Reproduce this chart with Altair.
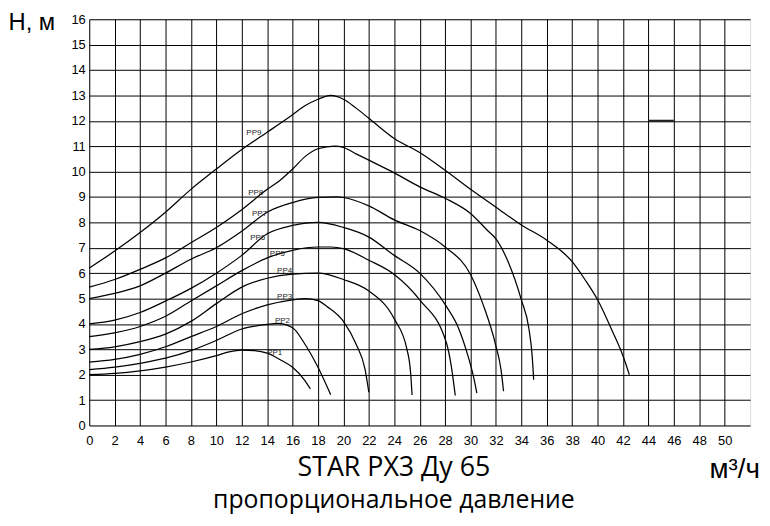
import altair as alt
import pandas as pd

# Flow Q (m3/h) and head H (m) for each curve
pp9_q = [0, 2, 4, 6, 8, 10, 12, 14, 16, 17, 18, 19, 20, 21, 22, 24, 26, 28, 30, 32, 34, 36, 38, 39, 40, 41.1, 42, 42.5]
pp9_h = [6.2, 6.87, 7.6, 8.4, 9.3, 10.1, 10.87, 11.55, 12.24, 12.6, 12.85, 13.0, 12.85, 12.5, 12.1, 11.3, 10.75, 10.05, 9.3, 8.6, 7.9, 7.3, 6.45, 5.75, 4.95, 3.78, 2.74, 2.0]

pp8_q = [0, 2, 4, 6, 8, 10, 12, 14, 15, 16, 17, 18, 19.3, 20, 21, 22, 24, 26, 28, 30, 31.3, 32, 33, 34, 34.6, 34.85, 34.97]
pp8_h = [5.45, 5.75, 6.15, 6.6, 7.2, 7.8, 8.5, 9.3, 9.65, 10.1, 10.6, 10.9, 11.0, 10.95, 10.7, 10.45, 9.95, 9.4, 8.95, 8.35, 7.7, 7.35, 6.4, 4.95, 3.8, 2.75, 1.8]

pp7_q = [0, 2, 4, 6, 8, 10, 12, 14, 16, 18, 19.5, 20, 22, 24, 26, 28, 30, 31, 32, 32.4, 32.6]
pp7_h = [5.0, 5.2, 5.5, 6.0, 6.55, 7.0, 7.65, 8.4, 8.78, 8.98, 9.0, 8.98, 8.65, 8.1, 7.68, 7.03, 5.95, 4.75, 3.13, 2.2, 1.35]

pp6_q = [0, 2, 4, 6, 8, 10, 12, 14, 16, 18, 20, 22, 24, 26, 28.1, 29, 29.8, 30.2, 30.5]
pp6_h = [4.0, 4.15, 4.45, 4.9, 5.4, 6.0, 6.7, 7.55, 7.88, 8.0, 7.8, 7.42, 6.7, 6.0, 4.69, 3.9, 2.74, 2.0, 1.27]

pp5_q = [0, 2, 4, 6, 8, 10, 12, 14, 16, 18, 19, 20, 22, 24, 26, 28.1, 28.5, 28.8]
pp5_h = [3.5, 3.65, 3.9, 4.3, 4.9, 5.5, 6.1, 6.6, 6.9, 7.03, 7.03, 6.97, 6.51, 5.95, 4.95, 3.26, 2.3, 1.18]

pp4_q = [0, 2, 4, 6, 8, 10, 12, 14, 16, 18, 20, 22, 24, 25, 25.3, 25.4]
pp4_h = [3.0, 3.1, 3.3, 3.6, 4.1, 4.8, 5.45, 5.8, 5.96, 6.0, 5.75, 5.3, 4.2, 3.0, 2.0, 1.2]

pp3_q = [0, 2, 4, 6, 8, 10, 12, 14, 16, 17, 18, 18.7, 20, 21, 21.7, 22]
pp3_h = [2.5, 2.6, 2.8, 3.1, 3.5, 3.9, 4.4, 4.75, 4.95, 5.0, 4.92, 4.69, 4.1, 3.2, 2.22, 1.31]

pp2_q = [0, 2, 4, 6, 8, 10, 12, 14, 14.8, 16, 16.9, 17.94, 19.0]
pp2_h = [2.2, 2.3, 2.45, 2.65, 2.95, 3.35, 3.8, 3.98, 4.02, 3.85, 3.26, 2.35, 1.21]

pp1_q = [0, 2, 4, 6, 8, 10, 11, 12, 13, 14, 15, 16, 17, 17.4]
pp1_h = [2.0, 2.05, 2.15, 2.3, 2.5, 2.75, 2.9, 2.97, 2.95, 2.85, 2.6, 2.29, 1.75, 1.44]

curve_names = ["PP1", "PP2", "PP3", "PP4", "PP5", "PP6", "PP7", "PP8", "PP9"]
curve_q = [pp1_q, pp2_q, pp3_q, pp4_q, pp5_q, pp6_q, pp7_q, pp8_q, pp9_q]
curve_h = [pp1_h, pp2_h, pp3_h, pp4_h, pp5_h, pp6_h, pp7_h, pp8_h, pp9_h]

# curve label positions (data units)
label_q = [14.6, 15.2, 15.37, 15.37, 14.8, 13.26, 13.4, 13.1, 12.95]
label_h = [2.85, 4.13, 5.07, 6.08, 6.74, 7.37, 8.34, 9.16, 11.5]

x_ticks = list(range(0, 52, 2))
y_ticks = list(range(0, 17, 1))

mark_q = [44.0]
mark_q2 = [46.0]
mark_h = [12.0]

rows = []
for name, qs, hs in zip(curve_names, curve_q, curve_h):
    for i, (q, h) in enumerate(zip(qs, hs)):
        rows.append({"curve": name, "q": q, "h": h, "order": i})
df = pd.DataFrame(rows)
lab_df = pd.DataFrame({"name": curve_names, "q": label_q, "h": label_h})
seg_df = pd.DataFrame({"q": mark_q, "q2": mark_q2, "h": mark_h})

xscale = alt.Scale(domain=[0, 52], nice=False, zero=False)
yscale = alt.Scale(domain=[0, 16], nice=False)

xaxis = alt.Axis(values=x_ticks, grid=True, gridColor="black", gridOpacity=1, gridWidth=1,
                 domain=False, ticks=False, labelPadding=9, labelFontSize=13,
                 labelFont="Liberation Sans", labelColor="black",
                 labelOverlap=False, labelFlush=False,
                 title="м³/ч", titleFont="Liberation Sans", titleFontSize=28,
                 titleFontWeight="normal", titleColor="black",
                 titleX=651, titleY=52, titleAlign="center", titleBaseline="alphabetic")
yaxis = alt.Axis(values=y_ticks, grid=True, gridColor="black", gridOpacity=1, gridWidth=1,
                 domain=False, ticks=False, labelPadding=4, labelFontSize=13,
                 labelFont="Liberation Sans", labelColor="black",
                 labelOverlap=False, labelFlush=False,
                 title="H, м", titleFont="Liberation Sans", titleFontSize=24,
                 titleFontWeight="normal", titleColor="black", titleAngle=0,
                 titleX=-82, titleY=10, titleAlign="left", titleBaseline="alphabetic")

X = lambda f: alt.X(f, scale=xscale, axis=xaxis)
Y = lambda f: alt.Y(f, scale=yscale, axis=yaxis)

lines = alt.Chart(df).mark_line(color="black", strokeWidth=1.25, interpolate="monotone").encode(
    x=X("q:Q"),
    y=Y("h:Q"),
    detail="curve:N",
    order="order:Q",
)

labels = alt.Chart(lab_df).mark_text(fontSize=8, font="Liberation Sans", color="#222").encode(
    x=X("q:Q"),
    y=Y("h:Q"),
    text="name:N",
)

seg = alt.Chart(seg_df).mark_rule(color="#222", strokeWidth=2.2).encode(
    x=X("q:Q"),
    x2="q2:Q",
    y=Y("h:Q"),
)

chart = alt.layer(lines, seg, labels).properties(
    width=667,
    height=410,
    autosize=alt.AutoSizeParams(type="none"),
    padding={"left": 82, "top": 9, "right": 12, "bottom": 90},
    title=alt.TitleParams(
        text="STAR PX3 Ду 65",
        subtitle="пропорциональное давление",
        orient="bottom", anchor="middle", font="Open Sans", fontSize=27,
        fontWeight="normal", color="black", subtitleFont="Open Sans",
        subtitleFontSize=25, subtitleColor="black", subtitlePadding=6,
        offset=0, dx=-26, dy=-28,
    ),
).configure_view(stroke="black", strokeWidth=1).configure(background="white")

chart.save("out.html", embed_options={"renderer": "svg", "actions": False})
